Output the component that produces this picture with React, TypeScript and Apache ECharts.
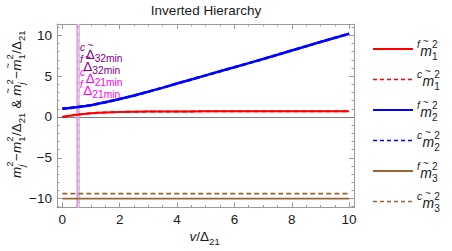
import React, { useEffect, useRef } from 'react';
import * as echarts from 'echarts';

// ---------- data ----------
const xValues = [0, 0.25, 0.5, 0.75, 1, 1.5, 2, 3, 4, 5, 6, 7, 8, 9, 10];
const fM1 = [0, 0.14, 0.27, 0.37, 0.45, 0.55, 0.61, 0.66, 0.68, 0.69, 0.7, 0.7, 0.7, 0.7, 0.7];
const cM1 = [0, 0.14, 0.27, 0.37, 0.45, 0.55, 0.61, 0.66, 0.68, 0.69, 0.7, 0.7, 0.7, 0.7, 0.7];
const fM2 = [1.0, 1.1, 1.2, 1.32, 1.45, 1.8, 2.2, 3.1, 4.1, 5.1, 6.1, 7.1, 8.15, 9.2, 10.2];
const cM2 = [1.0, 1.1, 1.2, 1.32, 1.45, 1.8, 2.2, 3.1, 4.1, 5.1, 6.1, 7.1, 8.15, 9.2, 10.2];
const fM3 = [-10, -10, -10, -10, -10, -10, -10, -10, -10, -10, -10, -10, -10, -10, -10];
const cM3 = [-9.4, -9.4, -9.4, -9.4, -9.4, -9.4, -9.4, -9.4, -9.4, -9.4, -9.4, -9.4, -9.4, -9.4, -9.4];
const deltaMin = 0.54;

const xMajorTicks = [0, 2, 4, 6, 8, 10];
const xMinorTicks = [0.5, 1, 1.5, 2.5, 3, 3.5, 4.5, 5, 5.5, 6.5, 7, 7.5, 8.5, 9, 9.5];
const yMajorTicks = [-10, -5, 0, 5, 10];
const yMinorTicks = [-11, -9, -8, -7, -6, -4, -3, -2, -1, 1, 2, 3, 4, 6, 7, 8, 9, 11];

const titleText = 'Inverted Hierarchy';

// ---------- styling ----------
const FONT = '"Liberation Sans", Arial, sans-serif';
const RED = '#ff0000';
const BLUE = '#0000ff';
const BROWN = '#996633';
const PURPLE = '#800080';
const MAGENTA = '#ff00ff';
const FRAME = '#9a9a9a';

const X_MIN = -0.185;
const X_MAX = 10.17;
const Y_MIN = -11.1;
const Y_MAX = 11.4;

// ---------- math text helper ----------
type Tok = {
  t?: string;
  i?: boolean;
  sup?: string;
  sub?: string;
  supI?: boolean;
  subI?: boolean;
  tilde?: boolean;
  size?: number;
};

let _ctx: CanvasRenderingContext2D | null = null;
function measure(text: string, size: number, italic: boolean) {
  if (!_ctx) _ctx = document.createElement('canvas').getContext('2d');
  if (!_ctx) return text.length * size * 0.55;
  _ctx.font = `${italic ? 'italic ' : ''}${size}px ${FONT}`;
  return _ctx.measureText(text).width;
}

function mathText(
  tokens: Tok[],
  S: number,
  color: string,
  align: 'left' | 'center' = 'left',
  ratio = 0.7,
  supDy = -0.42,
  subDy = 0.36,
) {
  const s = S * ratio;
  const items: any[] = [];
  let x = 0;
  const mk = (text: string, px: number, dy: number, size: number, italic: boolean) => ({
    type: 'text',
    x: px,
    y: dy,
    style: {
      text,
      fontSize: size,
      fontFamily: FONT,
      fontStyle: italic ? 'italic' : 'normal',
      fill: color,
      align: 'left',
      verticalAlign: 'middle',
    },
  });
  for (const tk of tokens) {
    if (tk.t !== undefined) {
      const size = tk.size ?? S;
      const w = measure(tk.t, size, !!tk.i);
      items.push(mk(tk.t, x, 0, size, !!tk.i));
      if (tk.tilde) {
        const tw = measure('~', s, false);
        items.push(mk('~', x + w / 2 - tw / 2 - (tk.i ? 0.5 : 0), -S * 0.66, s, false));
      }
      x += w;
    } else {
      let w = 0;
      if (tk.sup !== undefined) {
        items.push(mk(tk.sup, x, S * supDy, s, !!tk.supI));
        w = Math.max(w, measure(tk.sup, s, !!tk.supI));
      }
      if (tk.sub !== undefined) {
        items.push(mk(tk.sub, x, S * subDy, s, !!tk.subI));
        w = Math.max(w, measure(tk.sub, s, !!tk.subI));
      }
      x += w + 0.5;
    }
  }
  if (align === 'center') {
    for (const it of items) it.x -= x / 2;
  }
  return { items, width: x };
}

function group(x: number, y: number, children: any[], rotation = 0) {
  return { type: 'group', x, y, rotation, silent: true, children };
}

// ---------- component ----------
export default function App() {
  const ref = useRef<HTMLDivElement>(null);

  useEffect(() => {
    document.body.style.margin = '0';
    if (!ref.current) return;
    const chart = echarts.init(ref.current, undefined, { renderer: 'svg' });

    const pairs = (ys: number[]) => xValues.map((x, i) => [x, ys[i]]);

    const seriesDefs = [
      { name: 'fm1', data: fM1, color: RED, width: 2, dash: false },
      { name: 'cm1', data: cM1, color: RED, width: 2, dash: true },
      { name: 'fm2', data: fM2, color: BLUE, width: 2.5, dash: false },
      { name: 'cm2', data: cM2, color: BLUE, width: 2.5, dash: true },
      { name: 'fm3', data: fM3, color: BROWN, width: 1.8, dash: false },
      { name: 'cm3', data: cM3, color: BROWN, width: 1.8, dash: true },
    ];

    const lineSeries = seriesDefs.map((d, idx) => ({
      type: 'line',
      name: d.name,
      data: pairs(d.data),
      smooth: 0.35,
      showSymbol: false,
      silent: true,
      z: 5 + idx,
      lineStyle: { color: d.color, width: d.width, type: d.dash ? [5, 3] : 'solid' },
    }));

    const refSeries = [
      {
        type: 'line',
        data: [],
        z: 1,
        markLine: {
          silent: true,
          symbol: 'none',
          label: { show: false },
          lineStyle: { color: '#808080', width: 1, type: 'solid' },
          data: [{ yAxis: 0 }],
        },
      },
      {
        type: 'line',
        data: [],
        z: 2,
        markLine: {
          silent: true,
          symbol: 'none',
          label: { show: false },
          lineStyle: { color: '#d9a6d9', width: 3.5, type: 'solid' },
          data: [{ xAxis: deltaMin }],
        },
      },
      {
        type: 'line',
        data: [],
        z: 3,
        markLine: {
          silent: true,
          symbol: 'none',
          label: { show: false },
          lineStyle: { color: '#f0d8f0', width: 1, type: [4, 3] },
          data: [{ xAxis: deltaMin }],
        },
      },
    ];

    const xAxisBase = {
      type: 'value',
      min: X_MIN,
      max: X_MAX,
      splitLine: { show: false },
    };
    const yAxisBase = {
      type: 'value',
      min: Y_MIN,
      max: Y_MAX,
      splitLine: { show: false },
    };
    const labelStyle = { color: '#1a1a1a', fontSize: 13.5, fontFamily: FONT };

    const xAxes = [
      {
        ...xAxisBase,
        position: 'bottom',
        axisLine: { show: true, onZero: false, lineStyle: { color: FRAME, width: 1 } },
        axisTick: { show: true, inside: true, length: 5, customValues: xMajorTicks, lineStyle: { color: FRAME } },
        axisLabel: { show: true, customValues: xMajorTicks, margin: 5, ...labelStyle },
      },
      {
        ...xAxisBase,
        position: 'bottom',
        axisLine: { show: false, onZero: false },
        axisTick: { show: true, inside: true, length: 2.5, customValues: xMinorTicks, lineStyle: { color: FRAME } },
        axisLabel: { show: false },
      },
      {
        ...xAxisBase,
        position: 'top',
        axisLine: { show: true, onZero: false, lineStyle: { color: FRAME, width: 1 } },
        axisTick: { show: true, inside: true, length: 5, customValues: xMajorTicks, lineStyle: { color: FRAME } },
        axisLabel: { show: false },
      },
      {
        ...xAxisBase,
        position: 'top',
        axisLine: { show: false, onZero: false },
        axisTick: { show: true, inside: true, length: 2.5, customValues: xMinorTicks, lineStyle: { color: FRAME } },
        axisLabel: { show: false },
      },
    ];
    const yAxes = [
      {
        ...yAxisBase,
        position: 'left',
        axisLine: { show: true, onZero: false, lineStyle: { color: FRAME, width: 1 } },
        axisTick: { show: true, inside: true, length: 5, customValues: yMajorTicks, lineStyle: { color: FRAME } },
        axisLabel: {
          show: true,
          customValues: yMajorTicks,
          margin: 5,
          ...labelStyle,
          formatter: (v: number) => (v < 0 ? '\u2212' + Math.abs(v) : String(v)),
        },
      },
      {
        ...yAxisBase,
        position: 'left',
        axisLine: { show: false, onZero: false },
        axisTick: { show: true, inside: true, length: 2.5, customValues: yMinorTicks, lineStyle: { color: FRAME } },
        axisLabel: { show: false },
      },
      {
        ...yAxisBase,
        position: 'right',
        axisLine: { show: true, onZero: false, lineStyle: { color: FRAME, width: 1 } },
        axisTick: { show: true, inside: true, length: 5, customValues: yMajorTicks, lineStyle: { color: FRAME } },
        axisLabel: { show: false },
      },
      {
        ...yAxisBase,
        position: 'right',
        axisLine: { show: false, onZero: false },
        axisTick: { show: true, inside: true, length: 2.5, customValues: yMinorTicks, lineStyle: { color: FRAME } },
        axisLabel: { show: false },
      },
    ];

    // ----- graphics: title, axis names, annotations, legend -----
    const graphics: any[] = [];
    graphics.push({
      type: 'text',
      x: 206,
      y: 10,
      silent: true,
      style: { text: titleText, fontSize: 13.5, fontFamily: FONT, fill: '#1a1a1a', align: 'center', verticalAlign: 'middle' },
    });

    // x axis name: v/Δ21
    const xName = mathText([{ t: 'v', i: true }, { t: '/Δ' }, { sub: '21' }], 13.5, '#1a1a1a', 'center', 0.72, -0.42, 0.38);
    graphics.push(group(205, 236, xName.items));

    // y axis label (rotated)
    const S = 13.5;
    const yTok: Tok[] = [
      { t: 'm', i: true }, { sup: '2', sub: 'j', subI: true }, { t: '\u2212' },
      { t: 'm', i: true }, { sup: '2', sub: '1' }, { t: '/Δ' }, { sub: '21' },
      { t: ' & ' },
      { t: 'm', i: true, tilde: true }, { sup: '2', sub: 'j', subI: true }, { t: '\u2212' },
      { t: 'm', i: true, tilde: true }, { sup: '2', sub: '1' }, { t: '/Δ' }, { sub: '21' },
    ];
    const yName = mathText(yTok, S, '#1a1a1a', 'center', 0.7, -0.45, 0.38);
    graphics.push(group(16, 104, yName.items, Math.PI / 2));

    // annotations near vertical line
    const ann = [
      { pre: 'c', tilde: true, sub: '32min', color: PURPLE, y: 54 },
      { pre: 'f', tilde: true, sub: '32min', color: PURPLE, y: 66 },
      { pre: 'c', tilde: false, sub: '21min', color: MAGENTA, y: 78.5 },
      { pre: 'f', tilde: false, sub: '21min', color: MAGENTA, y: 90.5 },
    ];
    for (const a of ann) {
      const m = mathText(
        [{ sup: a.pre, supI: true }, { t: 'Δ', tilde: a.tilde }, { sub: a.sub }],
        13.5,
        a.color,
        'left',
        0.76,
        -0.45,
        0.3,
      );
      graphics.push(group(80, a.y, m.items));
    }

    // legend
    const legendItems = [
      { color: RED, dash: false, pre: 'f', idx: '1', w: 2 },
      { color: RED, dash: true, pre: 'c', idx: '1', w: 1.5 },
      { color: BLUE, dash: false, pre: 'f', idx: '2', w: 2 },
      { color: BLUE, dash: true, pre: 'c', idx: '2', w: 1.5 },
      { color: BROWN, dash: false, pre: 'f', idx: '3', w: 2 },
      { color: BROWN, dash: true, pre: 'c', idx: '3', w: 1.5 },
    ];
    legendItems.forEach((it, k) => {
      const y = 49 + k * 30.5;
      graphics.push({
        type: 'line',
        silent: true,
        shape: { x1: 373, y1: y, x2: 413, y2: y },
        style: { stroke: it.color, lineWidth: it.w, lineDash: it.dash ? [4, 3] : null },
      });
      const m = mathText(
        [{ sup: it.pre, supI: true }, { t: 'm', i: true, tilde: true }, { sup: '2', sub: it.idx }],
        14,
        '#1a1a1a',
        'left',
        0.72,
        -0.45,
        0.42,
      );
      graphics.push(group(417, y + 1.5, m.items));
    });

    chart.setOption({
      animation: false,
      grid: { left: 57, right: 98, top: 24, bottom: 43.5, containLabel: false },
      xAxis: xAxes,
      yAxis: yAxes,
      series: [...refSeries, ...lineSeries],
      graphic: { elements: graphics },
    });

    return () => chart.dispose();
  }, []);

  return <div ref={ref} style={{ width: 452, height: 251 }} />;
}
